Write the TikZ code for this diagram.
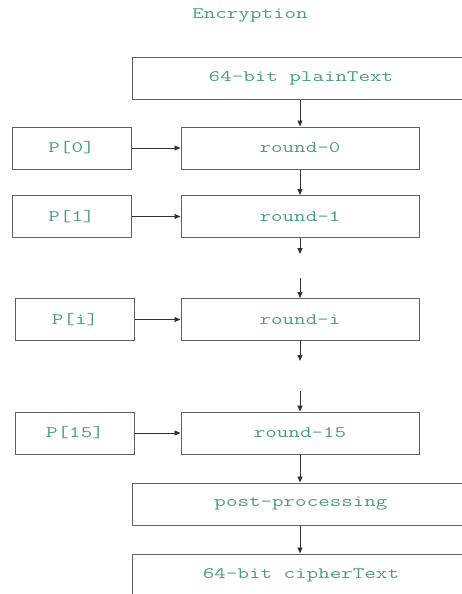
\documentclass[tikz,border=0pt]{standalone}
\usepackage{fontspec}
\usepackage{graphicx}
\usetikzlibrary{arrows.meta}
\definecolor{txtgreen}{HTML}{4A9E80}
\definecolor{linegray}{HTML}{606060}
\newcommand{\lbl}[1]{\scalebox{1.4}[1]{\ttfamily\fontsize{16}{18}\selectfont #1}}
\begin{document}
\begin{tikzpicture}[x=1pt,y=-1pt,
  box/.style={draw=linegray, line width=1pt, text=txtgreen, inner sep=0pt, minimum height=42pt},
  wide/.style={box, minimum width=338pt},
  rnd/.style={box, minimum width=238pt},
  pbox/.style={box, minimum width=119pt},
  arr/.style={draw=black!80, line width=0.9pt, -{Triangle[length=6pt,width=5pt]}}
]
\useasboundingbox (0,0) rectangle (461,594);
\node[text=txtgreen] (title) at (250,15) {\lbl{Encryption}};
\node[wide] (plain) at (301,78.5) {\lbl{64-bit plainText}};
\node[rnd] (r0) at (300,148) {\lbl{round-0}};
\node[pbox] (p0) at (71.5,148) {\lbl{P[0]}};
\node[rnd] (r1) at (300,216.5) {\lbl{round-1}};
\node[pbox] (p1) at (71.5,216.5) {\lbl{P[1]}};
\node[rnd] (ri) at (300,319.5) {\lbl{round-i}};
\node[pbox] (pi) at (75,319.5) {\lbl{P[i]}};
\node[rnd] (r15) at (300,433) {\lbl{round-15}};
\node[pbox] (p15) at (75,433) {\lbl{P[15]}};
\node[wide] (post) at (301,504) {\lbl{post-processing}};
\node[wide] (cipher) at (301,575) {\lbl{64-bit cipherText}};
\coordinate (a1) at (300,254);
\coordinate (a2) at (300,278);
\coordinate (a3) at (300,361);
\coordinate (a4) at (300,391);
\draw[arr] (plain.south -| r0.north) -- (r0.north);
\draw[arr] (r0) -- (r1);
\draw[arr] (r1.south) -- (a1);
\draw[arr] (a2) -- (ri.north);
\draw[arr] (ri.south) -- (a3);
\draw[arr] (a4) -- (r15.north);
\draw[arr] (r15.south) -- (post.north -| r15.south);
\draw[arr] (post.south -| r15.south) -- (cipher.north -| r15.south);
\draw[arr] (p0) -- (r0);
\draw[arr] (p1) -- (r1);
\draw[arr] (pi) -- (ri);
\draw[arr] (p15) -- (r15);
\end{tikzpicture}
\end{document}
